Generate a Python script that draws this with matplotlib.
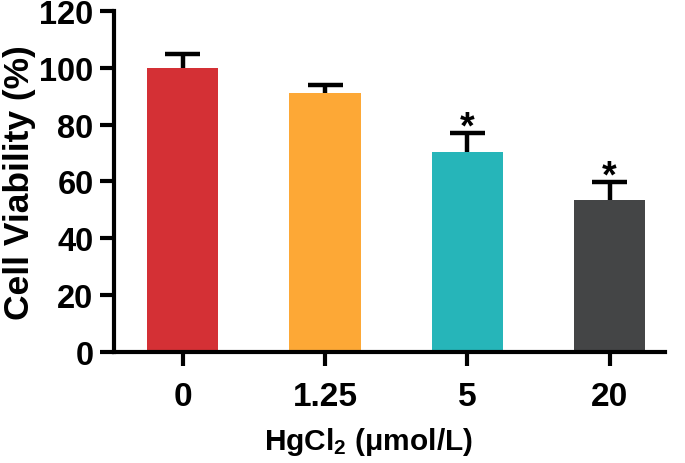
import matplotlib
matplotlib.use("Agg")
import matplotlib.pyplot as plt
import numpy as np

categories = ["0", "1.25", "5", "20"]
values = [100, 91, 70.5, 53.5]
errors = [4.8, 3.0, 6.5, 6.3]
significant = [False, False, True, True]
colors = ["#D43035", "#FDA836", "#26B5B9", "#444546"]

plt.rcParams['font.family'] = ['Liberation Sans', 'DejaVu Sans']
plt.rcParams['font.weight'] = 'bold'
plt.rcParams['mathtext.fontset'] = 'custom'
plt.rcParams['mathtext.rm'] = 'Liberation Sans:bold'
plt.rcParams['mathtext.bf'] = 'Liberation Sans:bold'
plt.rcParams['mathtext.it'] = 'Liberation Sans:bold'

fig = plt.figure(figsize=(6.85, 4.64), dpi=100)
ax = fig.add_axes([0.167, 0.2392, 0.804, 0.735])

x = np.arange(len(categories))
ax.bar(x, values, width=0.5, color=colors, zorder=2)
tops = np.array(values) + np.array(errors)
cap_half = 0.123
ax.vlines(x, values, tops, colors='black', linewidth=3.2, zorder=3)
ax.hlines(tops, x - cap_half, x + cap_half, colors='black', linewidth=3.2, zorder=3)
for xi, t, s in zip(x, tops, significant):
    if s:
        ax.text(xi, t - 1.6, "*", ha='center', va='baseline', fontsize=27,
                fontweight='bold', color='black')

ax.set_xlim(-0.48, 3.39)
ax.set_ylim(0, 120)
ax.set_yticks(range(0, 121, 20))
ax.set_xticks(x)
ax.set_xticklabels(categories)
for s in ['top', 'right']:
    ax.spines[s].set_visible(False)
for s in ['left', 'bottom']:
    ax.spines[s].set_linewidth(3.0)
    ax.spines[s].set_capstyle('projecting')
ax.tick_params(axis='both', width=3.0, length=10, direction='out')
ax.tick_params(axis='y', pad=5, labelsize=23.5)
ax.tick_params(axis='x', pad=11, labelsize=24)
ax.set_ylabel("Cell Viability (%)", fontsize=25.5, fontweight='bold')
ax.yaxis.set_label_coords(-0.143, 0.5)
ax.set_xlabel(r"HgCl$_\mathbf{2}$ (μmol/L)", fontsize=21.5, fontweight='bold')
ax.xaxis.set_label_coords(0.462, -0.2845)
ax.xaxis.label.set_verticalalignment('baseline')

fig.savefig("out.png", dpi=100)
